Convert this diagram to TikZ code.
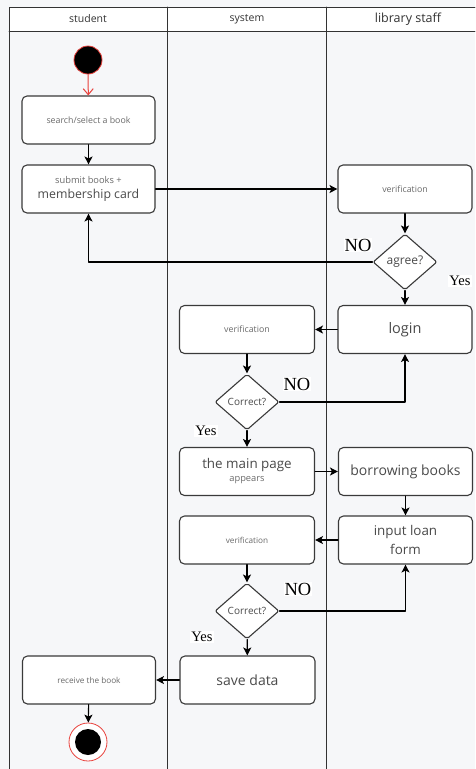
\documentclass[tikz,border=0pt]{standalone}
\usepackage{fontspec}
\setmainfont{Open Sans}
\newfontfamily\guardfont{Liberation Serif}
\usepackage{xcolor}
\usetikzlibrary{arrows.meta,shapes.geometric}
\definecolor{lanebg}{HTML}{F6F7F9}
\definecolor{laneline}{HTML}{333333}
\definecolor{boxline}{HTML}{3A3A3A}
\definecolor{boxtext}{HTML}{4A4A4A}
\definecolor{smalltext}{HTML}{6A6A6A}
\definecolor{startred}{HTML}{E8413C}
\newcommand{\fs}[1]{\fontsize{#1}{#1}\selectfont}

\begin{document}
\begin{tikzpicture}[line cap=round,line join=round,>={Stealth[length=8pt,width=8pt,inset=2pt]},x=1pt,y=-1pt,
  act/.style={draw=boxline,line width=1.1pt,fill=white,rounded corners=5pt,minimum width=134pt,minimum height=48pt,text=boxtext,align=center,inner sep=2pt},
  tiny/.style={text=smalltext},
  choice/.style={draw=boxline,line width=1.1pt,fill=white,diamond,rounded corners=2pt,minimum width=64pt,minimum height=56pt,inner sep=0pt,text=boxtext},
  guard/.style={font=\guardfont,text=black,fill=white,inner sep=1pt},
  flow/.style={->,line width=1.1pt,draw=black},
  lane/.style={font=\fs{10.5},text=laneline}]
\useasboundingbox (0,0) rectangle (475,769);
\fill[lanebg] (0,0) rectangle (475,769);
\fill[white] (9,7) rectangle (475,31);
\draw[line width=0.9pt,laneline] (475,7) -- (9,7) -- (9,769);
\draw[line width=0.9pt,laneline] (9,31) -- (475,31);
\draw[line width=0.9pt,laneline] (167,7) -- (167,769);
\draw[line width=0.9pt,laneline] (326,7) -- (326,769);
\node[lane] (hstudent) at (88,19) {student};
\node[lane] (hsystem) at (247,19) {system};
\node[lane,font=\fs{12.5}] (hstaff) at (408,19) {library staff};

\node[circle,fill=black,draw=startred,line width=0.8pt,minimum size=28pt,inner sep=0pt] (start) at (88,60) {};
\node[act,tiny,minimum width=133pt,font=\fs{8.8}] (search) at (88.5,120) {search/select a book};
\node[act,minimum width=133pt] (submit) at (88.5,189) {{\color{smalltext}\fs{9.3}submit books +}\\[3pt]{\fs{12.3}membership card}};
\node[act,tiny,font=\fs{8.8}] (verif) at (405,189) {verification};
\node[choice,font=\fs{12}] (agree) at (405,262) {agree?};
\node[act,font=\fs{14.5}] (login) at (405,329.5) {login};
\node[act,tiny,minimum width=135pt,font=\fs{8.8}] (sysverif) at (247,329.5) {verification};
\node[choice,font=\fs{10}] (correct) at (247,402) {Correct?};
\node[act,minimum width=135pt] (mainpage) at (247,471.5) {{\fs{13.4}the main page}\\[1pt]{\color{smalltext}\fs{9.3}appears}};
\node[act,font=\fs{14}] (borrow) at (405.5,471.5) {borrowing books};
\node[act,font=\fs{13.4}] (loanform) at (405.5,540) {input loan\\[4pt]form};
\node[act,tiny,minimum width=135pt,font=\fs{8.2}] (loanverif) at (247,540) {verification};
\node[choice,font=\fs{10}] (correcttwo) at (247,611) {Correct?};
\node[act,minimum width=135pt,font=\fs{14}] (savedata) at (247.5,680) {save data};
\node[act,tiny,minimum width=133pt,font=\fs{8.2}] (receive) at (89,680) {receive the book};
\node[circle,draw=startred,line width=0.8pt,fill=white,minimum size=38pt,inner sep=0pt,
  path picture={\fill[black] (path picture bounding box.center) circle (13pt);}] (stop) at (88,742) {};

\node[guard,font=\guardfont\fs{18.5}] (noagree) at (358,245) {NO};
\node[guard,font=\guardfont\fs{14.5}] (yesagree) at (460,281) {Yes};
\node[guard,font=\guardfont\fs{18.5}] (nocorrect) at (297,384) {NO};
\node[guard,font=\guardfont\fs{14.5}] (yescorrect) at (206,431) {Yes};
\node[guard,font=\guardfont\fs{18.5}] (nocorrecttwo) at (298,589) {NO};
\node[guard,font=\guardfont\fs{14.5}] (yescorrecttwo) at (202,637) {Yes};

\draw[line width=1pt,startred,-{Straight Barb[length=6pt,width=10pt]}] (start) -- (search);
\draw[flow] (search) -- (submit);
\draw[flow] (submit) -- (verif);
\draw[flow] (verif) -- (agree);
\draw[flow] (agree) -- (login);
\draw[flow] (agree.west) -| (submit.south);
\draw[flow] (login) -- (sysverif);
\draw[flow] (sysverif) -- (correct);
\draw[flow] (correct.east) -| (login.south);
\draw[flow] (correct) -- (mainpage);
\draw[flow] (mainpage) -- (borrow);
\draw[flow] (borrow) -- (loanform);
\draw[flow] (loanform) -- (loanverif);
\draw[flow] (loanverif) -- (correcttwo);
\draw[flow] (correcttwo.east) -| (loanform.south);
\draw[flow] (correcttwo) -- (savedata);
\draw[flow] (savedata) -- (receive);
\draw[flow] (receive) -- (stop);
\end{tikzpicture}
\end{document}
